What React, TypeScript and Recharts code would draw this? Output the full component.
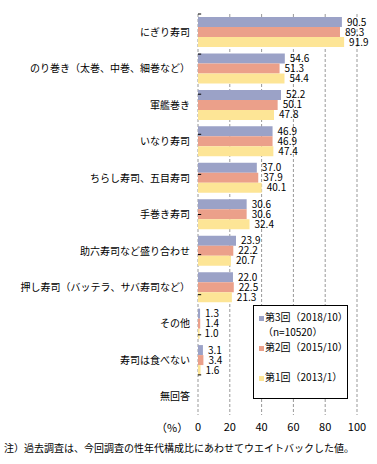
import {
  BarChart,
  Bar,
  XAxis,
  YAxis,
  CartesianGrid,
  LabelList,
  ReferenceArea,
  ReferenceLine,
} from "recharts";

const categories = [
  "にぎり寿司",
  "のり巻き（太巻、中巻、細巻など）",
  "軍艦巻き",
  "いなり寿司",
  "ちらし寿司、五目寿司",
  "手巻き寿司",
  "助六寿司など盛り合わせ",
  "押し寿司（バッテラ、サバ寿司など）",
  "その他",
  "寿司は食べない",
  "無回答",
];

const wave3 = [90.5, 54.6, 52.2, 46.9, 37.0, 30.6, 23.9, 22.0, 1.3, 3.1, null];
const wave2 = [89.3, 51.3, 50.1, 46.9, 37.9, 30.6, 22.2, 22.5, 1.4, 3.4, null];
const wave1 = [91.9, 54.4, 47.8, 47.4, 40.1, 32.4, 20.7, 21.3, 1.0, 1.6, null];

const xTicks = [0, 20, 40, 60, 80, 100];

const series = [
  { key: "w3", name: "第3回（2018/10）", sub: "（n=10520）", color: "#9ba2c7" },
  { key: "w2", name: "第2回（2015/10）", sub: "", color: "#eba08a" },
  { key: "w1", name: "第1回（2013/1）", sub: "", color: "#fde596" },
];

const data = categories.map((name, i) => ({
  name,
  w3: wave3[i],
  w2: wave2[i],
  w1: wave1[i],
}));

const font = '"Noto Sans CJK JP", "Noto Sans", sans-serif';
const fmt = (v: any) => (v == null ? "" : Number(v).toFixed(1));

export default function App() {
  return (
    <div
      style={{
        position: "absolute",
        left: 0,
        top: 0,
        width: 377,
        height: 464,
        background: "#fff",
        fontFamily: font,
      }}
    >
      <BarChart
        width={377}
        height={464}
        data={data}
        layout="vertical"
        margin={{ top: 14, right: 20, left: 0, bottom: 19 }}
        barCategoryGap={3}
        barGap={0}
        style={{ fontFamily: font }}
      >
        <CartesianGrid
          horizontal={false}
          yAxisId="cat"
          stroke="#999"
          strokeDasharray="3 2"
        />
        <XAxis
          type="number"
          domain={[0, 100]}
          ticks={xTicks}
          axisLine={false}
          tickLine={false}
          height={30}
          tick={{ fontSize: 11, fill: "#000" }}
        />
        <YAxis
          yAxisId="cat"
          type="category"
          dataKey="name"
          width={198}
          axisLine={false}
          tickLine={false}
          interval={0}
          tick={{ fontSize: 10, fill: "#000" }}
        />
        <YAxis
          yAxisId="b"
          type="number"
          domain={[0, 11]}
          width={0}
          hide
          reversed
        />
        {series.map((s) => (
          <Bar
            key={s.key}
            yAxisId="cat"
            dataKey={s.key}
            name={s.name}
            fill={s.color}
            barSize={10}
            isAnimationActive={false}
          >
            <LabelList
              dataKey={s.key}
              position="right"
              offset={5}
              formatter={fmt}
              style={{ fontSize: 10, fill: "#000" }}
            />
          </Bar>
        ))}
        {categories.slice(1).map((_, i) => (
          <ReferenceLine
            key={i}
            yAxisId="b"
            segment={[
              { x: 0, y: i + 1 },
              { x: 2, y: i + 1 },
            ]}
            stroke="#000"
          />
        ))}
        <ReferenceArea
          yAxisId="b"
          x1={0}
          x2={100}
          y1={0}
          y2={11}
          fill="none"
          stroke="#000"
          strokeWidth={1}
        />
      </BarChart>

      <div
        style={{
          position: "absolute",
          left: 253,
          top: 305,
          width: 93,
          height: 92,
          border: "1px solid #000",
          background: "#fff",
          fontSize: 10,
          lineHeight: "15px",
        }}
      >
        {series.map((s, i) => (
          <div
            key={s.key}
            style={{
              position: "absolute",
              left: 5,
              top: [3, 33, 63][i],
              whiteSpace: "nowrap",
            }}
          >
            <span
              style={{
                display: "inline-block",
                width: 5,
                height: 5,
                background: s.color,
                marginRight: 1,
                verticalAlign: "middle",
              }}
            />
            {s.name}
            {s.sub && <div style={{ marginLeft: 4 }}>{s.sub}</div>}
          </div>
        ))}
      </div>

      <div
        style={{
          position: "absolute",
          left: 156,
          top: 419,
          fontSize: 11,
        }}
      >
        （%）
      </div>
      <div
        style={{
          position: "absolute",
          left: 4,
          top: 440,
          fontSize: 10,
          whiteSpace: "nowrap",
        }}
      >
        注）過去調査は、今回調査の性年代構成比にあわせてウエイトバックした値。
      </div>
    </div>
  );
}
